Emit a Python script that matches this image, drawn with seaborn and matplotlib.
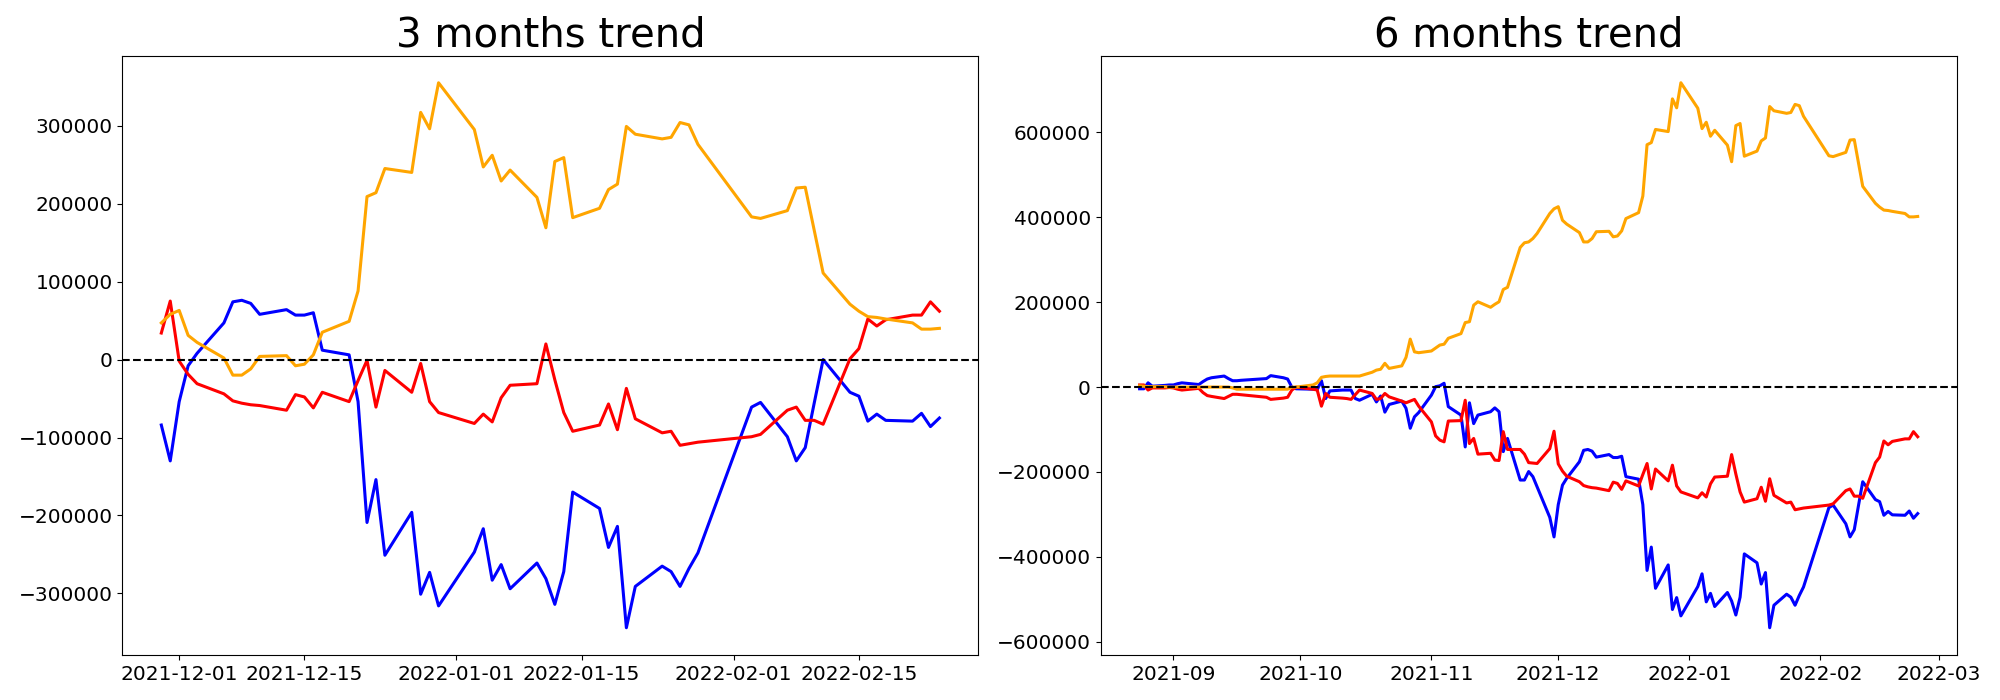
import matplotlib
matplotlib.use("Agg")
import matplotlib.pyplot as plt
import matplotlib.dates as mdates
import pandas as pd
import seaborn as sns

# trading days shown in the 3 months panel
dates_3m = [
    "2021-11-29", "2021-11-30", "2021-12-01", "2021-12-02", "2021-12-03",
    "2021-12-06", "2021-12-07", "2021-12-08", "2021-12-09", "2021-12-10",
    "2021-12-13", "2021-12-14", "2021-12-15", "2021-12-16", "2021-12-17",
    "2021-12-20", "2021-12-21", "2021-12-22", "2021-12-23", "2021-12-24",
    "2021-12-27", "2021-12-28", "2021-12-29", "2021-12-30",
    "2022-01-03", "2022-01-04", "2022-01-05", "2022-01-06", "2022-01-07",
    "2022-01-10", "2022-01-11", "2022-01-12", "2022-01-13", "2022-01-14",
    "2022-01-17", "2022-01-18", "2022-01-19", "2022-01-20", "2022-01-21",
    "2022-01-24", "2022-01-25", "2022-01-26", "2022-01-27", "2022-01-28",
    "2022-02-03", "2022-02-04",
    "2022-02-07", "2022-02-08", "2022-02-09", "2022-02-10", "2022-02-11",
    "2022-02-14", "2022-02-15", "2022-02-16", "2022-02-17", "2022-02-18",
    "2022-02-21", "2022-02-22", "2022-02-23", "2022-02-24",
]

blue_3m = [
    -84000, -130000, -54000, -8000, 8000, 47000, 74000, 76000, 72000, 58000,
    64000, 57000, 57000, 60000, 12000, 6000, -54000, -209000, -154000, -251000,
    -196000, -301000, -273000, -316000, -247000, -217000, -283000, -263000, -294000,
    -261000, -281000, -314000, -272000, -170000, -191000, -241000, -214000, -344000, -291000,
    -265000, -272000, -291000, -268000, -248000, -61000, -55000,
    -99000, -130000, -113000, -56000, 0, -42000, -47000, -79000, -70000, -78000,
    -79000, -69000, -86000, -75000,
]
red_3m = [
    34000, 75000, -2000, -19000, -31000, -44000, -53000, -56000, -58000, -59000,
    -65000, -45000, -48000, -62000, -42000, -54000, -27000, -1000, -61000, -14000,
    -42000, -5000, -54000, -68000, -82000, -70000, -80000, -49000, -33000,
    -31000, 20000, -26000, -68000, -92000, -84000, -57000, -90000, -37000, -76000,
    -94000, -92000, -110000, -108000, -106000, -99000, -96000,
    -65000, -61000, -78000, -78000, -83000, 1000, 14000, 52000, 43000, 51000,
    57000, 57000, 74000, 62000,
]
orange_3m = [
    47000, 58000, 63000, 31000, 22000, 2000, -20000, -20000, -12000, 4000,
    5000, -8000, -6000, 6000, 35000, 49000, 88000, 209000, 214000, 245000,
    240000, 317000, 296000, 355000, 295000, 247000, 262000, 229000, 243000,
    208000, 169000, 254000, 259000, 182000, 194000, 218000, 225000, 299000, 289000,
    283000, 285000, 304000, 301000, 276000, 183000, 181000,
    191000, 220000, 221000, 166000, 111000, 71000, 62000, 55000, 54000, 52000,
    47000, 39000, 39000, 40000,
]

# the 6 months panel starts earlier and then shares the same trading days
dates_early = [
    "2021-08-24", "2021-08-25", "2021-08-26", "2021-08-27", "2021-08-30", "2021-08-31",
    "2021-09-01", "2021-09-02", "2021-09-03",
    "2021-09-06", "2021-09-07", "2021-09-08", "2021-09-09", "2021-09-10",
    "2021-09-13", "2021-09-14", "2021-09-15", "2021-09-16", "2021-09-17",
    "2021-09-23", "2021-09-24",
    "2021-09-27", "2021-09-28", "2021-09-29", "2021-09-30",
    "2021-10-04", "2021-10-05", "2021-10-06", "2021-10-07", "2021-10-08",
    "2021-10-11", "2021-10-12", "2021-10-13", "2021-10-14", "2021-10-15",
    "2021-10-18", "2021-10-19", "2021-10-20", "2021-10-21", "2021-10-22",
    "2021-10-25", "2021-10-26", "2021-10-27", "2021-10-28", "2021-10-29",
    "2021-11-01", "2021-11-02", "2021-11-03", "2021-11-04", "2021-11-05",
    "2021-11-08", "2021-11-09", "2021-11-10", "2021-11-11", "2021-11-12",
    "2021-11-15", "2021-11-16", "2021-11-17", "2021-11-18", "2021-11-19",
    "2021-11-22", "2021-11-23", "2021-11-24", "2021-11-25", "2021-11-26",
]
dates_6m = dates_early + dates_3m

blue_6m = [
    -4000, -4000, 10000, 2000, 4000, 5000,
    5000, 8000, 10000, 7000, 6000, 13000, 19000, 22000,
    26000, 20000, 15000, 15000, 16000, 20000, 27000, 22000, 19000, 0, -4000,
    -5000, -6000, 15000, -27000, -9000, -7000, -7000, -7000, -27000, -31000,
    -17000, -35000, -21000, -59000, -41000, -33000, -50000, -97000, -70000, -60000,
    -19000, 1000, 3000, 9000, -46000, -66000, -141000, -37000, -86000, -66000,
    -58000, -49000, -58000, -152000, -121000, -219000, -219000, -199000, -211000, -235000,
    -307000, -353000, -277000, -231000, -215000, -176000, -149000, -147000, -151000, -165000,
    -159000, -166000, -166000, -163000, -211000, -217000, -277000, -432000, -377000, -474000,
    -419000, -524000, -496000, -539000, -470000, -440000, -506000, -486000, -517000,
    -484000, -504000, -537000, -495000, -393000, -414000, -464000, -437000, -567000, -514000,
    -488000, -495000, -514000, -491000, -471000, -284000, -278000,
    -322000, -353000, -336000, -279000, -223000, -265000, -270000, -302000, -293000, -301000,
    -302000, -292000, -309000, -298000,
]
red_6m = [
    5000, 5000, -7000, -2000, -2000, -1000,
    -2000, -5000, -7000, -4000, -3000, -13000, -20000, -22000,
    -27000, -22000, -17000, -17000, -18000, -24000, -29000, -26000, -24000, -7000, 0,
    -5000, -7000, -45000, -15000, -24000, -26000, -27000, -29000, -18000, -7000,
    -15000, -29000, -27000, -15000, -23000, -33000, -37000, -33000, -29000, -45000,
    -82000, -115000, -125000, -129000, -80000, -79000, -31000, -133000, -121000, -158000,
    -156000, -172000, -173000, -105000, -147000, -147000, -158000, -178000, -179000, -180000,
    -145000, -104000, -181000, -198000, -210000, -223000, -232000, -235000, -237000, -238000,
    -244000, -224000, -227000, -241000, -221000, -233000, -206000, -180000, -240000, -193000,
    -221000, -184000, -233000, -247000, -261000, -249000, -259000, -228000, -212000,
    -210000, -159000, -205000, -247000, -271000, -263000, -236000, -269000, -216000, -255000,
    -273000, -271000, -289000, -287000, -285000, -278000, -275000,
    -244000, -240000, -257000, -257000, -262000, -178000, -165000, -127000, -136000, -128000,
    -122000, -122000, -105000, -117000,
]
orange_6m = [
    3000, 2000, 1000, 1000, 1000, 0,
    0, 0, 0, 0, 0, 0, 0, 0,
    0, 0, -2000, -5000, -5000, -5000, -5000, -5000, -5000, 0, 0,
    5000, 10000, 23000, 25000, 26000, 26000, 26000, 26000, 26000, 26000,
    35000, 40000, 42000, 56000, 44000, 50000, 70000, 113000, 83000, 81000,
    85000, 92000, 99000, 101000, 115000, 126000, 152000, 154000, 193000, 201000,
    188000, 195000, 201000, 230000, 235000, 329000, 340000, 342000, 350000, 362000,
    409000, 420000, 425000, 393000, 384000, 364000, 342000, 342000, 350000, 366000,
    367000, 354000, 356000, 368000, 397000, 411000, 450000, 571000, 576000, 607000,
    602000, 679000, 658000, 717000, 657000, 609000, 624000, 591000, 605000,
    570000, 531000, 616000, 621000, 544000, 556000, 580000, 587000, 661000, 651000,
    645000, 647000, 666000, 663000, 638000, 545000, 543000,
    553000, 582000, 583000, 528000, 473000, 433000, 424000, 417000, 416000, 414000,
    409000, 401000, 401000, 402000,
]

palette = {"blue": "blue", "red": "red", "orange": "orange"}


def to_long(dates, blue, red, orange):
    d = pd.to_datetime(dates)
    parts = []
    for name, vals in (("blue", blue), ("red", red), ("orange", orange)):
        parts.append(pd.DataFrame({"date": d, "value": vals, "series": name}))
    return pd.concat(parts, ignore_index=True)


df_3m = to_long(dates_3m, blue_3m, red_3m, orange_3m)
df_6m = to_long(dates_6m, blue_6m, red_6m, orange_6m)

fig, axes = plt.subplots(1, 2, figsize=(20, 7), dpi=100)
fig.subplots_adjust(left=0.0612, right=0.9783, bottom=0.0643, top=0.9207, wspace=0.143)

panels = [
    (axes[0], df_3m, "3 months trend", mdates.DayLocator(bymonthday=[1, 15]), "%Y-%m-%d"),
    (axes[1], df_6m, "6 months trend", mdates.MonthLocator(), "%Y-%m"),
]
for ax, df, title, locator, fmt in panels:
    sns.lineplot(data=df, x="date", y="value", hue="series", palette=palette,
                 linewidth=2.2, legend=False, ax=ax)
    ax.axhline(0, color="black", linestyle="--", linewidth=1.5)
    ax.set_title(title, fontsize=29)
    ax.set_xlabel("")
    ax.set_ylabel("")
    ax.xaxis.set_major_locator(locator)
    ax.xaxis.set_major_formatter(mdates.DateFormatter(fmt))
    ax.tick_params(labelsize=14.5)

fig.savefig("out.png", dpi=100)
